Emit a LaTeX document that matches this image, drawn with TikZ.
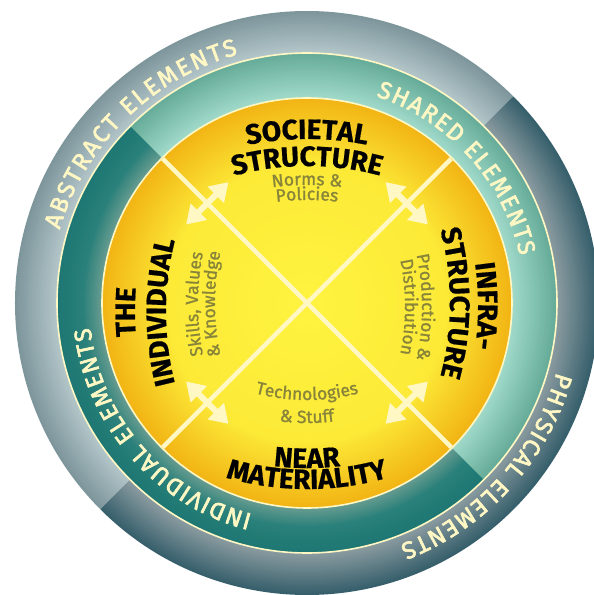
\documentclass[tikz,border=0pt]{standalone}
\usepackage{fontspec}
\setmainfont{Fira Sans}
\newfontfamily\ringfont[FakeBold=2.5]{Fira Sans}
\newfontfamily\subfont[FakeBold=1.2]{Fira Sans}
\newfontfamily\lblfont[FakeBold=0.6]{Fira Sans Bold}
\usetikzlibrary{arrows.meta,decorations.text,calc}
\definecolor{absOut}{HTML}{7D969C}
\definecolor{absIn}{HTML}{B5C7CB}
\definecolor{phyIn}{HTML}{8D9DA2}
\definecolor{phyOut}{HTML}{37606C}
\definecolor{shaOut}{HTML}{66AC99}
\definecolor{shaIn}{HTML}{A2DBCB}
\definecolor{indOut}{HTML}{1E7772}
\definecolor{indMid}{HTML}{2A807A}
\definecolor{indIn}{HTML}{6C9E92}
\definecolor{yelEdge}{HTML}{F2B515}
\definecolor{yelMid}{HTML}{FCEA37}
\definecolor{yelCen}{HTML}{FFF33F}
\definecolor{cream}{HTML}{FFF7C4}
\definecolor{subcol}{HTML}{88843A}
\newcommand\lblfmt{\fontsize{28}{28}\selectfont\lblfont\color{black}}
\newcommand\subfmt{\fontsize{17.5}{17.5}\selectfont\subfont\color{subcol}}
\newcommand\ringfmt{\fontsize{24}{24}\selectfont\ringfont\color{cream}}
% clockwise text (tops outward)
\newcommand\cwtext[5]{\path[decorate,decoration={text along path,text align=center,text={|#4|#5}}]
 ([shift={#1}]#3+60:#2pt) arc[start angle=#3+60,end angle=#3-60,radius=#2pt];}
% counter-clockwise text (tops inward)
\newcommand\ccwtext[5]{\path[decorate,decoration={text along path,text align=center,text={|#4|#5}}]
 ([shift={#1}]#3-60:#2pt) arc[start angle=#3-60,end angle=#3+60,radius=#2pt];}
% text fitted to an arc around the centre
\newcommand\fittext[5]{\path[decorate,decoration={text along path,text align={fit to path},text={|#4|#5}}]
 (#2:#1pt) arc[start angle=#2,end angle=#3,radius=#1pt];}
\tikzset{
 diagline/.style={draw=cream,line width=4.5pt},
 dblarrow/.style={draw=cream,line width=6pt,{Triangle[width=22pt,length=18pt]}-{Triangle[width=22pt,length=18pt]}},
 rimline/.style={draw=cream,line width=1.6pt}
}
\begin{document}
\begin{tikzpicture}
\useasboundingbox (-307pt,-292pt) rectangle (287pt,303pt);
\fill[white] (-307pt,-292pt) rectangle (287pt,303pt);
% outer ring
\foreach \i in {0,...,20}{
 \pgfmathsetmacro\rr{292-2.1*\i}
 \pgfmathtruncatemacro\tt{\i*5}
 \colorlet{tmpc}{absIn!\tt!absOut}
 \fill[tmpc] (0pt,0pt) -- (45:\rr pt) arc[start angle=45,end angle=225,radius=\rr pt] -- cycle;
 \colorlet{tmpc}{phyIn!\tt!phyOut}
 \fill[tmpc] (0pt,0pt) -- (225:\rr pt) arc[start angle=225,end angle=405,radius=\rr pt] -- cycle;
}
% middle ring
\foreach \i in {0,...,20}{
 \pgfmathsetmacro\rr{250-2.25*\i}
 \pgfmathtruncatemacro\tt{\i*5}
 \colorlet{tmpc}{shaIn!\tt!shaOut}
 \fill[tmpc] (0pt,0pt) -- (-45:\rr pt) arc[start angle=-45,end angle=135,radius=\rr pt] -- cycle;
 \ifnum\i<12
  \pgfmathtruncatemacro\tu{\i*100/11}
  \colorlet{tmpc}{indMid!\tu!indOut}
 \else
  \pgfmathtruncatemacro\tu{(\i-11)*100/9}
  \colorlet{tmpc}{indIn!\tu!indMid}
 \fi
 \fill[tmpc] (0pt,0pt) -- (135:\rr pt) arc[start angle=135,end angle=315,radius=\rr pt] -- cycle;
}
% yellow disc
\foreach \i in {0,...,26}{
 \pgfmathsetmacro\rr{205-2.5*\i}
 \pgfmathtruncatemacro\tt{\i*100/26}
 \colorlet{tmpc}{yelMid!\tt!yelEdge}
 \fill[tmpc] (0pt,0pt) circle[radius=\rr pt];
}
\foreach \i in {1,...,12}{
 \pgfmathsetmacro\rr{140-10*\i}
 \pgfmathtruncatemacro\tt{\i*100/12}
 \colorlet{tmpc}{yelCen!\tt!yelMid}
 \fill[tmpc] (0pt,0pt) circle[radius=\rr pt];
}
\draw[rimline] (0pt,0pt) circle[radius=250pt];
\draw[rimline] (0pt,0pt) circle[radius=205pt];
% diagonals
\coordinate (dA) at (135:204pt);
\coordinate (dB) at (315:204pt);
\coordinate (dC) at (45:204pt);
\coordinate (dD) at (225:204pt);
\draw[diagline] (dA) -- (dB);
\draw[diagline] (dC) -- (dD);
% arrows
\coordinate (a1s) at ($(135:141pt)+(225:30pt)$);
\coordinate (a1e) at ($(135:141pt)+(45:30pt)$);
\coordinate (a2s) at ($(45:141pt)+(135:30pt)$);
\coordinate (a2e) at ($(45:141pt)+(315:30pt)$);
\coordinate (a3s) at ($(225:141pt)+(135:30pt)$);
\coordinate (a3e) at ($(225:141pt)+(315:30pt)$);
\coordinate (a4s) at ($(315:141pt)+(45:30pt)$);
\coordinate (a4e) at ($(315:141pt)+(225:30pt)$);
\draw[dblarrow] (a1s) -- (a1e);
\draw[dblarrow] (a2s) -- (a2e);
\draw[dblarrow] (a3s) -- (a3e);
\draw[dblarrow] (a4s) -- (a4e);
% top
\cwtext{(0pt,-143pt)}{307}{90}{\lblfmt}{SOCIETAL}
\cwtext{(0pt,-143pt)}{280}{90}{\lblfmt}{STRUCTURE}
\cwtext{(0pt,-143pt)}{261}{90}{\subfmt}{Norms {\&}}
\cwtext{(0pt,-143pt)}{246}{90}{\subfmt}{Policies}
% left
\cwtext{(149pt,-9pt)}{321}{180}{\lblfmt}{THE}
\cwtext{(149pt,-9pt)}{290}{180}{\lblfmt}{INDIVIDUAL}
\cwtext{(149pt,-1pt)}{258}{180}{\subfmt}{Skills, Values}
\cwtext{(149pt,-1pt)}{241}{180}{\subfmt}{{\&} Knowledge}
% right
\cwtext{(-138pt,-3pt)}{309}{0}{\lblfmt}{INFRA-}
\cwtext{(-138pt,0pt)}{281}{0}{\lblfmt}{STRUCTURE}
\cwtext{(-138pt,-4pt)}{253}{0}{\subfmt}{Production {\&}}
\cwtext{(-138pt,-4pt)}{236}{0}{\subfmt}{Distribution}
% bottom
\ccwtext{(0pt,105pt)}{270}{270}{\lblfmt}{NEAR}
\ccwtext{(0pt,105pt)}{291}{270}{\lblfmt}{MATERIALITY}
\ccwtext{(0pt,105pt)}{202}{270}{\subfmt}{Technologies}
\ccwtext{(0pt,105pt)}{225}{270}{\subfmt}{{\&} Stuff}
% ring labels
\fittext{258}{163.5}{105.5}{\ringfmt}{ABSTRACT ELEMENTS}
\fittext{218}{71.5}{12.5}{\ringfmt}{SHARED ELEMENTS}
\fittext{259}{-15.5}{-69}{\ringfmt}{PHYSICAL ELEMENTS}
\fittext{218}{255.5}{186.5}{\ringfmt}{INDIVIDUAL ELEMENTS}
\end{tikzpicture}
\end{document}
